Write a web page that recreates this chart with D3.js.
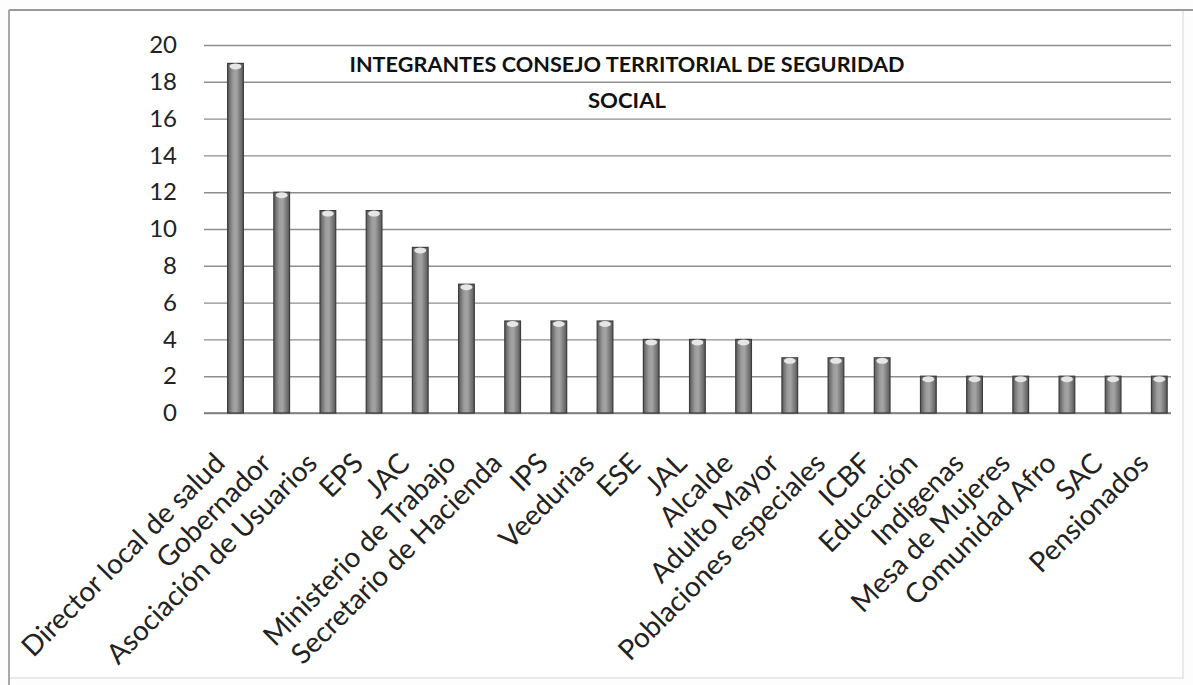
<!DOCTYPE html>
<html>
<head>
<meta charset="utf-8">
<script src="https://cdn.jsdelivr.net/npm/d3@7"></script>
<style>
  html, body { margin: 0; padding: 0; background: #fff; }
  svg { display: block; }
</style>
</head>
<body>
<svg id="chart" width="1193" height="685"></svg>
<script>
const categories = ["Director local de salud", "Gobernador", "Asociación de Usuarios", "EPS", "JAC",
  "Ministerio de Trabajo", "Secretario de Hacienda", "IPS", "Veedurias", "ESE", "JAL", "Alcalde",
  "Adulto Mayor", "Poblaciones especiales", "ICBF", "Educación", "Indigenas", "Mesa de Mujeres",
  "Comunidad Afro", "SAC", "Pensionados"];
const values = [19, 12, 11, 11, 9, 7, 5, 5, 5, 4, 4, 4, 3, 3, 3, 2, 2, 2, 2, 2, 2];
const yTicks = [0, 2, 4, 6, 8, 10, 12, 14, 16, 18, 20];
const titleLines = ["INTEGRANTES CONSEJO TERRITORIAL DE SEGURIDAD", "SOCIAL"];

const svg = d3.select("#chart");
const W = 1193, H = 685;

// frame
svg.append("rect").attr("x", 0).attr("y", 0).attr("width", W).attr("height", H).attr("fill", "#fdfdfd");
svg.append("rect").attr("x", 9).attr("y", 10).attr("width", 1174).attr("height", 668)
  .attr("fill", "#fff").attr("stroke", "#e2e2e2").attr("stroke-width", 1.5);
svg.append("line").attr("x1", 9).attr("x2", W).attr("y1", 10).attr("y2", 10).attr("stroke", "#9a9a9a").attr("stroke-width", 2);
svg.append("line").attr("x1", 9).attr("x2", 9).attr("y1", 10).attr("y2", H).attr("stroke", "#a8a8a8").attr("stroke-width", 2);

const gridLeft = 204, gridRight = 1171;
const y = d3.scaleLinear().domain([0, 20]).range([413, 45]);
const x = d3.scaleBand().domain(categories).range([212.4, 1182.4]).paddingInner(0.66).paddingOuter(0.33);

// gradient
const defs = svg.append("defs");
const grad = defs.append("linearGradient").attr("id", "barGrad").attr("x1", "0").attr("x2", "1").attr("y1", "0").attr("y2", "0");
grad.append("stop").attr("offset", "0%").attr("stop-color", "#5a5a5a");
grad.append("stop").attr("offset", "35%").attr("stop-color", "#9c9c9c");
grad.append("stop").attr("offset", "55%").attr("stop-color", "#a4a4a4");
grad.append("stop").attr("offset", "100%").attr("stop-color", "#585858");

// gridlines
const yAxis = d3.axisLeft(y).tickValues(yTicks).tickSize(-(gridRight - gridLeft)).tickPadding(27);
const gy = svg.append("g").attr("transform", `translate(${gridLeft},0)`).call(yAxis);
gy.select(".domain").remove();
gy.selectAll(".tick line").attr("stroke", "#8e8e8e").attr("stroke-width", 1.4);
gy.selectAll(".tick text").attr("font-family", "Lato, 'Open Sans', sans-serif").attr("font-size", 24)
  .attr("fill", "#222");

// baseline
svg.append("line").attr("x1", gridLeft).attr("x2", gridRight).attr("y1", y(0)).attr("y2", y(0))
  .attr("stroke", "#7a7a7a").attr("stroke-width", 1.6);

// bars
const bars = svg.append("g");
bars.selectAll("rect.bar").data(values).join("rect").attr("class", "bar")
  .attr("x", (d, i) => x(categories[i]))
  .attr("y", d => y(d))
  .attr("width", x.bandwidth())
  .attr("height", d => y(0) - y(d))
  .attr("fill", "url(#barGrad)")
  .attr("stroke", "#3c3c3c").attr("stroke-width", 1.2);
bars.selectAll("ellipse.cap").data(values).join("ellipse").attr("class", "cap")
  .attr("cx", (d, i) => x(categories[i]) + x.bandwidth() / 2)
  .attr("cy", d => y(d) + 3)
  .attr("rx", x.bandwidth() / 2 - 2)
  .attr("ry", 3)
  .attr("fill", "#e6e6e6");

// x labels
const lab = svg.append("g");
lab.selectAll("text").data(categories).join("text")
  .attr("transform", d => `translate(${x(d) + x.bandwidth() / 2 - 9},465) rotate(-45)`)
  .attr("text-anchor", "end")
  .attr("font-family", "Lato, 'Open Sans', sans-serif")
  .attr("font-size", 28)
  .attr("fill", "#222")
  .text(d => d);

// title
const title = svg.append("g");
title.selectAll("text").data(titleLines).join("text")
  .attr("x", 627)
  .attr("y", (d, i) => 72 + i * 36)
  .attr("text-anchor", "middle")
  .attr("font-family", "Lato, 'Open Sans', sans-serif")
  .attr("font-weight", "bold")
  .attr("font-size", 21)
  .attr("fill", "#111")
  .attr("textLength", (d, i) => i === 0 ? 555 : 78)
  .attr("lengthAdjust", "spacingAndGlyphs")
  .text(d => d);
</script>
</body>
</html>
